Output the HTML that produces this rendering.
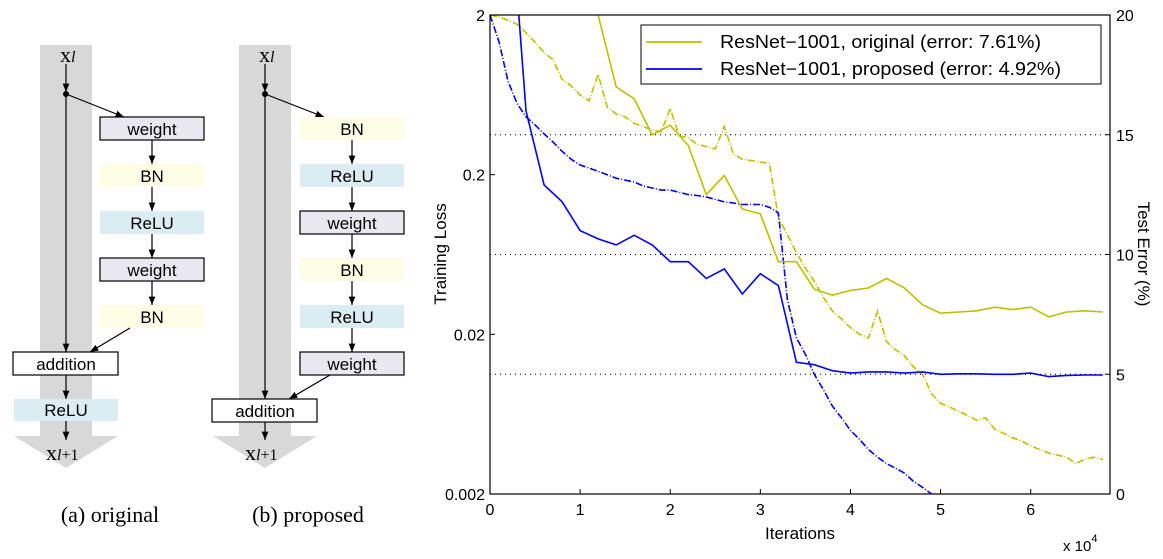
<!DOCTYPE html>
<html><head><meta charset="utf-8"><style>
body{margin:0;background:#fff;}
svg{display:block;font-family:"Liberation Sans",sans-serif;}
</style></head><body>
<svg id="fig" width="1163" height="559" viewBox="0 0 1163 559">
<defs>
<marker id="ah" viewBox="0 0 10 10" refX="10" refY="5" markerWidth="7" markerHeight="7" orient="auto-start-reverse"><path d="M0,1 L10,5 L0,9 z" fill="#000"/></marker>
</defs>
<g id="diagA"></g>
<g id="diagB"></g>
<text x="110" y="522" font-family="Liberation Serif,serif" font-size="22" text-anchor="middle">(a) original</text>
<text x="308" y="522" font-family="Liberation Serif,serif" font-size="22" text-anchor="middle">(b) proposed</text>
<g id="chart"></g>
</svg>
<script>
const NS='http://www.w3.org/2000/svg';
function mk(parent,tag,attrs,text){const e=document.createElementNS(NS,tag);for(const k in attrs)e.setAttribute(k,attrs[k]);if(text!==undefined)e.textContent=text;parent.appendChild(e);return e;}
const colors={weight:'#e9e7f0',BN:'#fdfde6',ReLU:'#dbecf2',addition:'#ffffff'};
function diagram(g,dx,boxes,addY,reluBottom){
  const cx=66+dx;
  const grey=mk(g,'path',{d:`M${40+dx},45 L${92+dx},45 L${92+dx},436 L${118+dx},436 L${cx},468 L${14+dx},436 L${40+dx},436 Z`,fill:'#d8d8d8'});
  
  
  const xl=mk(g,'text',{x:cx-6,y:62,'font-family':'Liberation Serif,serif','font-size':22});
  
  
  xl.innerHTML='x<tspan font-style="italic" font-size="16">l</tspan>';
  mk(g,'line',{x1:cx,y1:64,x2:cx,y2:92,stroke:'#000','stroke-width':1.2,'marker-end':'url(#ah)'});
  mk(g,'circle',{cx:cx,cy:94,r:3,fill:'#000'});
  const bx=100+dx+(dx?1:0), bw=104;
  mk(g,'line',{x1:cx,y1:94,x2:bx+24,y2:117,stroke:'#000','stroke-width':1.2,'marker-end':'url(#ah)'});
  boxes.forEach((b,i)=>{
    const y=117+i*47;
    const r=mk(g,'rect',{x:bx,y:y,width:bw,height:23,fill:colors[b],stroke:b==='weight'?'#000':'none','stroke-width':1.2});
    
    
    mk(g,'text',{x:bx+bw/2,y:y+18,'font-size':17,'text-anchor':'middle'},b);
    if(i<boxes.length-1) mk(g,'line',{x1:bx+bw/2,y1:y+23,x2:bx+bw/2,y2:y+47,stroke:'#000','stroke-width':1.2,'marker-end':'url(#ah)'});
  });
  const lastY=117+(boxes.length-1)*47+23;
  mk(g,'line',{x1:cx,y1:94,x2:cx,y2:addY,stroke:'#000','stroke-width':1.2,'marker-end':'url(#ah)'});
  mk(g,'line',{x1:bx+30,y1:lastY,x2:cx+24,y2:addY,stroke:'#000','stroke-width':1.2,'marker-end':'url(#ah)'});
  const ar=mk(g,'rect',{x:cx-53,y:addY,width:105,height:23,fill:'#fff',stroke:'#000','stroke-width':1.2});
  
  
  mk(g,'text',{x:cx,y:addY+18,'font-size':17,'text-anchor':'middle'},'addition');
  let y2=addY+23;
  if(reluBottom){
    mk(g,'line',{x1:cx,y1:y2,x2:cx,y2:399,stroke:'#000','stroke-width':1.2,'marker-end':'url(#ah)'});
    const rr=mk(g,'rect',{x:cx-52,y:399,width:104,height:22,fill:colors.ReLU});
    
    
    mk(g,'text',{x:cx,y:416,'font-size':17,'text-anchor':'middle'},'ReLU');
    y2=421;
  }
  mk(g,'line',{x1:cx,y1:y2,x2:cx,y2:440,stroke:'#000','stroke-width':1.2,'marker-end':'url(#ah)'});
  const xo=mk(g,'text',{x:cx-20,y:460,'font-family':'Liberation Serif,serif','font-size':22});
  
  
  xo.innerHTML='x<tspan font-style="italic" font-size="16">l</tspan><tspan font-size="16">+1</tspan>';
}
diagram(document.getElementById('diagA'),0,['weight','BN','ReLU','weight','BN'],352,true);
diagram(document.getElementById('diagB'),199,['BN','ReLU','weight','BN','ReLU','weight'],399,false);

// ===== chart data =====
const xTicks=[0,1,2,3,4,5,6];
const lossTicks=[0.002,0.02,0.2,2];
const lossTickLabels=['0.002','0.02','0.2','2'];
const errTicks=[0,5,10,15,20];
const errTickLabels=['0','5','10','15','20'];
const errOrigIter=[1.0,1.2,1.4,1.6,1.8,2.0,2.2,2.4,2.6,2.8,3.0,3.2,3.4,3.6,3.8,4.0,4.2,4.4,4.6,4.8,5.0,5.2,5.4,5.6,5.8,6.0,6.2,6.4,6.6,6.8];
const errOrig=[24,20,17.0,16.5,15.0,15.4,14.55,12.5,13.3,11.9,11.7,9.7,9.7,8.55,8.3,8.5,8.6,9.0,8.6,7.9,7.55,7.6,7.65,7.8,7.7,7.8,7.4,7.6,7.65,7.6];
const errPropIter=[0.3,0.4,0.6,0.8,1.0,1.2,1.4,1.6,1.8,2.0,2.2,2.4,2.6,2.8,3.0,3.2,3.4,3.6,3.8,4.0,4.2,4.4,4.6,4.8,5.0,5.2,5.4,5.6,5.8,6.0,6.2,6.4,6.6,6.8];
const errProp=[21,16.0,12.9,12.2,11.0,10.65,10.4,10.8,10.4,9.7,9.7,9.0,9.4,8.35,9.2,8.7,5.5,5.4,5.15,5.05,5.1,5.1,5.05,5.1,5.0,5.02,5.02,5.0,5.0,5.05,4.9,4.95,4.97,4.97];
const lossOrigStart=0, lossStep=0.1;
const lossOrig=[2.0,1.95,1.85,1.75,1.55,1.35,1.16,1.05,0.79,0.72,0.63,0.58,0.85,0.53,0.48,0.46,0.42,0.40,0.38,0.37,0.52,0.35,0.34,0.31,0.30,0.29,0.40,0.27,0.25,0.245,0.24,0.235,0.108,0.084,0.065,0.052,0.043,0.034,0.028,0.025,0.022,0.020,0.019,0.028,0.018,0.016,0.0147,0.0125,0.0112,0.0085,0.0074,0.0070,0.0066,0.0062,0.0058,0.0060,0.0051,0.0048,0.0045,0.0043,0.0040,0.0038,0.0036,0.0035,0.0034,0.0031,0.0033,0.0034,0.0033];
const lossProp=[2.0,1.36,0.77,0.56,0.46,0.41,0.36,0.32,0.28,0.25,0.23,0.22,0.21,0.2,0.19,0.185,0.18,0.17,0.165,0.16,0.16,0.155,0.15,0.148,0.145,0.14,0.135,0.133,0.13,0.13,0.13,0.125,0.115,0.033,0.019,0.015,0.0112,0.009,0.0071,0.006,0.005,0.0044,0.0038,0.0034,0.0031,0.0029,0.0027,0.0024,0.0022,0.0020,0.0019];

const L=490,R=1110,T=15,B=494,XMAX=6.88;
const X=v=>L+(R-L)*v/XMAX;
const YL=v=>B-(B-T)*(Math.log10(v)-Math.log10(0.002))/3;
const YE=v=>B-(B-T)*v/20;
const ch=document.getElementById('chart');
const cp=mk(ch,'clipPath',{id:'pc'});
mk(cp,'rect',{x:L,y:T,width:R-L,height:B-T});
errTicks.forEach((v,i)=>{
  if(v>0&&v<20){const gl=mk(ch,'line',{x1:L,x2:R,y1:YE(v),y2:YE(v),stroke:'#000','stroke-width':1,'stroke-dasharray':'1,4'});
  
  }
  mk(ch,'line',{x1:R-5,x2:R,y1:YE(v),y2:YE(v),stroke:'#000'});
  const t=mk(ch,'text',{x:R+6,y:YE(v)+6,'font-size':16},errTickLabels[i]);
  
  
});
lossTicks.forEach((v,i)=>{
  mk(ch,'line',{x1:L,x2:L+5,y1:YL(v),y2:YL(v),stroke:'#000'});
  const t=mk(ch,'text',{x:L-5,y:YL(v)+6,'font-size':16,'text-anchor':'end'},lossTickLabels[i]);
  
  
});
xTicks.forEach(v=>{
  mk(ch,'line',{x1:X(v),x2:X(v),y1:B,y2:B-5,stroke:'#000'});
  const t=mk(ch,'text',{x:X(v),y:B+21,'font-size':16,'text-anchor':'middle'},String(v));
  
  
});
const pg=mk(ch,'g',{'clip-path':'url(#pc)'});
function poly(xs,ys,fy,color,dash,name){
  const pts=xs.map((x,i)=>X(x).toFixed(1)+','+fy(ys[i]).toFixed(1)).join(' ');
  const p=mk(pg,'polyline',{points:pts,fill:'none',stroke:color,'stroke-width':1.6});
  if(dash)p.setAttribute('stroke-dasharray',dash);
  
  
}
poly(lossOrig.map((_,i)=>lossOrigStart+i*lossStep),lossOrig,YL,'#bfbf00','7,2,1,2','train-loss-original');
poly(lossProp.map((_,i)=>lossOrigStart+i*lossStep),lossProp,YL,'#0000ff','7,2,1,2','train-loss-proposed');
poly(errOrigIter,errOrig,YE,'#bfbf00',null,'test-error-original');
poly(errPropIter,errProp,YE,'#0000ff',null,'test-error-proposed');
const fr=mk(ch,'rect',{x:L,y:T,width:R-L,height:B-T,fill:'none',stroke:'#000','stroke-width':1.2});


const lg=mk(ch,'g',{});


mk(lg,'rect',{x:641,y:25,width:460,height:59,fill:'#fff',stroke:'#000','stroke-width':1});
[['#bfbf00','ResNet\u22121001, original (error: 7.61%)',42,321],['#0000ff','ResNet\u22121001, proposed (error: 4.92%)',69,341]].forEach(([c,t,y,w])=>{
  const e=mk(lg,'g',{});
  
  
  mk(e,'line',{x1:646,x2:702,y1:y,y2:y,stroke:c,'stroke-width':1.8});
  mk(e,'text',{x:720,y:y+6,'font-size':18,textLength:w,lengthAdjust:'spacingAndGlyphs'},t);
});
const xl=mk(ch,'text',{x:800,y:539,'font-size':17,'text-anchor':'middle'},'Iterations');


const xs=mk(ch,'text',{x:1063,y:551,'font-size':15});


xs.innerHTML='x 10<tspan dy="-9" font-size="11">4</tspan>';
const yl=mk(ch,'text',{x:0,y:0,'font-size':17,'text-anchor':'middle',transform:'translate(446,254) rotate(-90)'},'Training Loss');


const yr=mk(ch,'text',{x:0,y:0,'font-size':17,'text-anchor':'middle',transform:'translate(1138,254) rotate(90)'},'Test Error (%)');


</script>
</body></html>
